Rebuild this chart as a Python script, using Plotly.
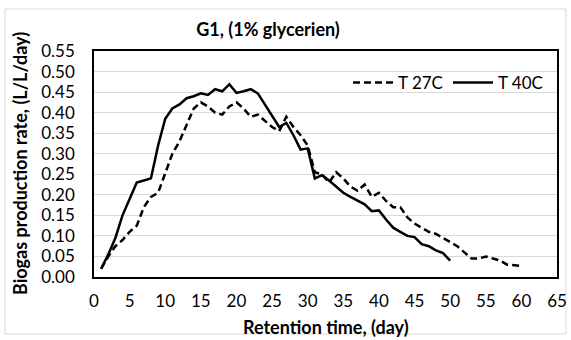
import plotly.graph_objects as go

days_27 = list(range(1, 61))
rate_27 = [0.02, 0.05, 0.075, 0.09, 0.11, 0.125, 0.17, 0.195, 0.205, 0.255,
           0.30, 0.33, 0.37, 0.41, 0.425, 0.415, 0.40, 0.395, 0.415, 0.425,
           0.41, 0.39, 0.395, 0.38, 0.365, 0.355, 0.39, 0.365, 0.345, 0.32,
           0.255, 0.25, 0.23, 0.255, 0.24, 0.22, 0.21, 0.225, 0.195, 0.205,
           0.185, 0.17, 0.17, 0.145, 0.13, 0.12, 0.11, 0.105, 0.095, 0.085,
           0.075, 0.06, 0.045, 0.045, 0.05, 0.045, 0.04, 0.03, 0.028, 0.027]

days_40 = list(range(1, 51))
rate_40 = [0.02, 0.055, 0.095, 0.15, 0.19, 0.23, 0.235, 0.24, 0.32, 0.385,
           0.41, 0.42, 0.435, 0.44, 0.447, 0.443, 0.457, 0.452, 0.469, 0.448,
           0.452, 0.457, 0.447, 0.42, 0.39, 0.365, 0.375, 0.345, 0.31, 0.313,
           0.24, 0.248, 0.235, 0.22, 0.205, 0.195, 0.185, 0.177, 0.16, 0.162,
           0.14, 0.12, 0.11, 0.1, 0.097, 0.08, 0.075, 0.065, 0.058, 0.04]

x_title = "Retention time, (day)"
y_title = "Biogas production rate, (L/L/day)"
chart_title = "G1, (1% glycerien)"

FONT = "Lato"

fig = go.Figure()
fig.add_trace(go.Scatter(x=days_27, y=rate_27, mode="lines", name="T 27C",
                         line=dict(color="black", width=2.5, dash="7px,4px")))
fig.add_trace(go.Scatter(x=days_40, y=rate_40, mode="lines", name="T 40C",
                         line=dict(color="black", width=2.5)))

W, H = 571, 340
L, R, T, B = 94, 14, 51, 63
PW, PH = W - L - R, H - T - B

fig.update_layout(
    width=W, height=H,
    margin=dict(l=L, r=R, t=T, b=B, autoexpand=False),
    paper_bgcolor="white", plot_bgcolor="white",
    font=dict(family=FONT, size=17, color="black"),
    title=dict(text="<b>" + chart_title + "</b>", x=268 / W, xanchor="center",
               y=1 - 30 / H, yanchor="middle", font=dict(size=18, family=FONT)),
    showlegend=True,
    legend=dict(orientation="h", x=(348 - L) / PW, xanchor="left",
                y=1 - (83 - T) / PH, yanchor="middle",
                bgcolor="rgba(0,0,0,0)", font=dict(size=17, family=FONT),
                itemwidth=40, tracegroupgap=0),
    xaxis=dict(range=[0, 65], dtick=5, tick0=0, showgrid=False, zeroline=False,
               showline=True, linecolor="black", linewidth=1.5, mirror=True,
               ticks="", ticklabelstandoff=8, tickfont=dict(size=17),
               automargin=False),
    yaxis=dict(range=[0, 0.55], dtick=0.05, tick0=0, tickformat=".2f",
               showgrid=True, gridcolor="#d9d9d9", gridwidth=1, zeroline=False,
               showline=True, linecolor="black", linewidth=1.5, mirror=True,
               ticks="", ticklabelstandoff=14, tickfont=dict(size=17),
               automargin=False),
    annotations=[
        dict(text="<b>" + x_title + "</b>", xref="paper", yref="paper",
             x=0.5, y=-(327 - (H - B)) / PH, xanchor="center", yanchor="middle",
             showarrow=False, font=dict(size=18, family=FONT)),
        dict(text="<b>" + y_title + "</b>", xref="paper", yref="paper",
             x=-(L - 20) / PW, y=0.5, xanchor="center", yanchor="middle",
             textangle=-90, showarrow=False, font=dict(size=18, family=FONT)),
    ],
    shapes=[dict(type="rect", xref="paper", yref="paper",
                 x0=(5 - L) / PW, x1=(566 - L) / PW,
                 y0=-(334 - (H - B)) / PH, y1=1 + (T - 9) / PH,
                 line=dict(color="#d9d9d9", width=1), layer="below")],
)

fig.write_html("out.html")
